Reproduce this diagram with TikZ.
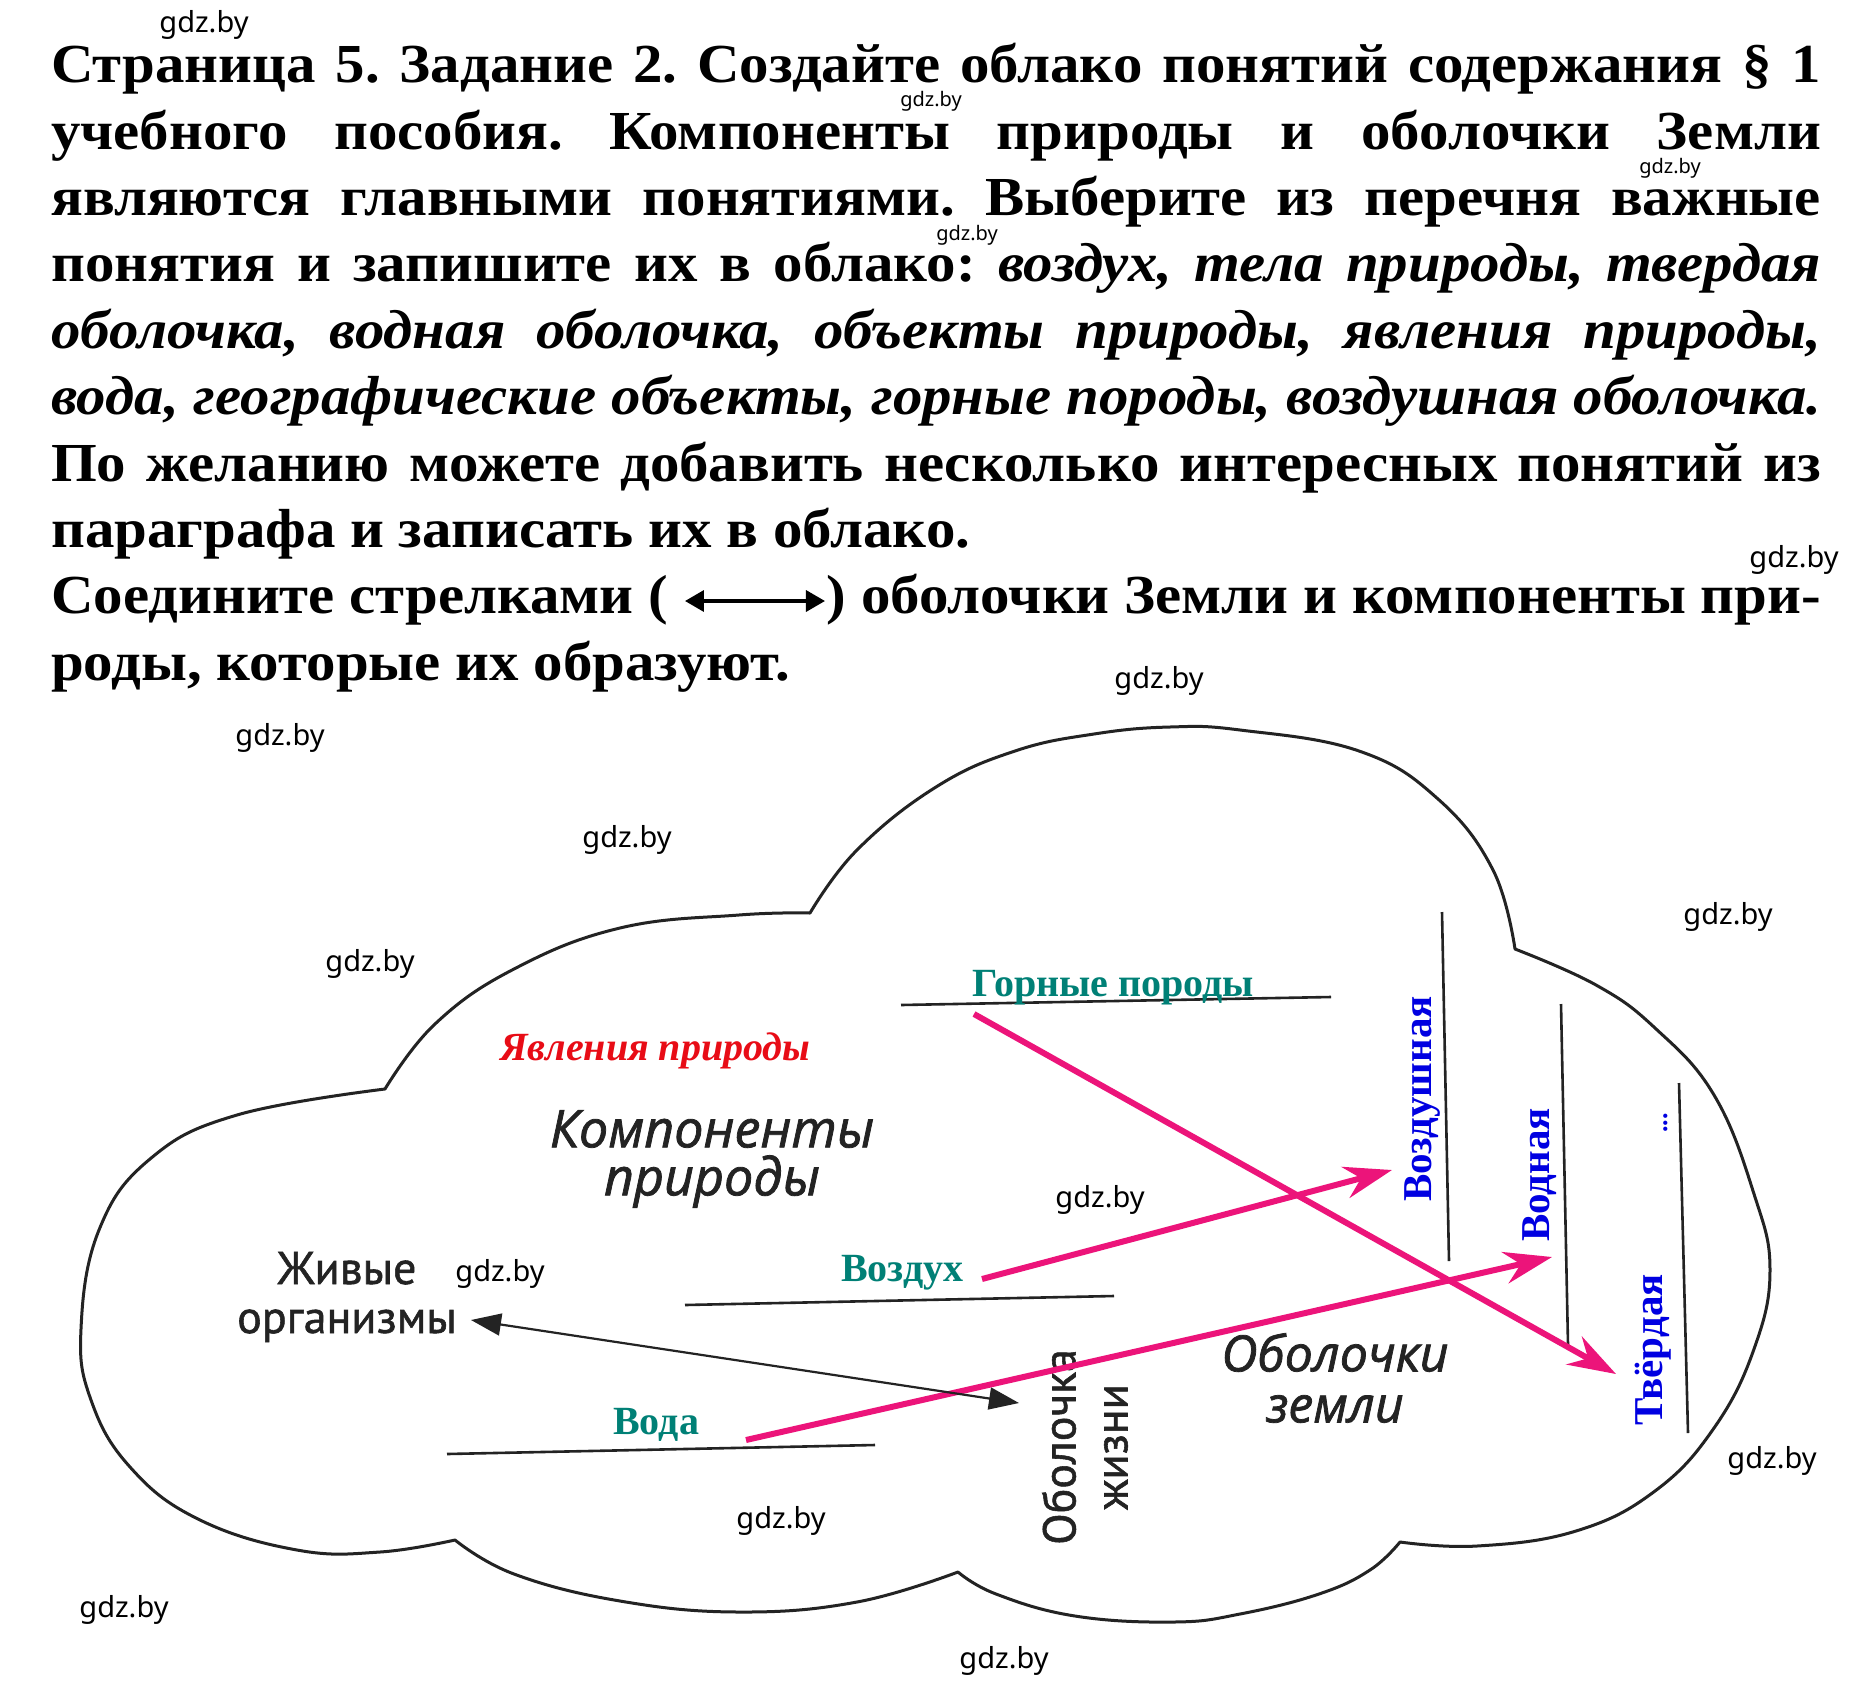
\documentclass[tikz,border=0pt]{standalone}
\usepackage{fontspec}
\setmainfont{Liberation Serif}
\newfontfamily\taskfont{Liberation Serif}[FakeStretch=1.07]
\newfontfamily\ptsans{PT Sans}[FakeBold=1.2]
\newfontfamily\hand{Open Sans}[FakeBold=1.5]
\newfontfamily\wmfont{Noto Sans}
\usetikzlibrary{arrows.meta,calc}
\definecolor{tealtxt}{RGB}{0,128,118}
\definecolor{pinkarrow}{RGB}{236,20,122}
\definecolor{bluetxt}{RGB}{0,0,225}
\definecolor{redtxt}{RGB}{232,12,22}
\definecolor{ink}{RGB}{35,35,35}
\tikzset{
  txtline/.style={anchor=base west, inner sep=0pt, font=\taskfont\bfseries\fontsize{55}{66}\selectfont},
  wmbig/.style={inner sep=0pt, font=\wmfont\fontsize{29}{32}\selectfont},
  wmsmall/.style={inner sep=0pt, font=\wmfont\fontsize{20}{22}\selectfont},
  cloudline/.style={draw=ink, line width=3pt, line join=round},
  blankline/.style={draw=ink, line width=2.6pt},
  pinkarr/.style={draw=pinkarrow, line width=6pt, -{Stealth[length=48pt,width=32pt,inset=16pt]}},
  blackarr/.style={draw=ink, line width=2.2pt, {Triangle[length=30pt,width=22pt]}-{Triangle[length=30pt,width=22pt]}},
  answer/.style={anchor=base west, inner sep=0pt, text=tealtxt, font=\bfseries\fontsize{40}{44}\selectfont},
  shell/.style={rotate=90, inner sep=0pt, text=bluetxt, font=\bfseries\fontsize{41}{44}\selectfont},
  handtxt/.style={inner sep=0pt, align=center, text=ink, font=\hand\itshape\fontsize{52}{48}\selectfont},
  sanstxt/.style={inner sep=0pt, align=center, text=ink, font=\ptsans\fontsize{46}{49}\selectfont}
}
\begin{document}
\frenchspacing
\begin{tikzpicture}[x=1pt,y=-1pt]
\useasboundingbox (0,0) rectangle (1860,1692);
\fill[white] (0,0) rectangle (1860,1692);

% ---- task text ----
\node[txtline] (t1) at (51,82) {\makebox[1770pt][s]{Страница 5. Задание 2. Создайте облако понятий содержания § 1}};
\node[txtline] (t2) at (51,149) {\makebox[1770pt][s]{учебного пособия. Компоненты природы и оболочки Земли}};
\node[txtline] (t3) at (51,215) {\makebox[1770pt][s]{являются главными понятиями. Выберите из перечня важные}};
\node[txtline] (t4) at (51,281) {\makebox[1770pt][s]{понятия и запишите их в облако: \textit{воздух, тела природы, твердая}}};
\node[txtline] (t5) at (51,348) {\makebox[1770pt][s]{\textit{оболочка, водная оболочка, объекты природы, явления природы,}}};
\node[txtline] (t6) at (51,414) {\makebox[1770pt][s]{\textit{вода, географические объекты, горные породы, воздушная оболочка.}}};
\node[txtline] (t7) at (51,481) {\makebox[1770pt][s]{По желанию можете добавить несколько интересных понятий из}};
\node[txtline] (t8) at (51,547) {параграфа и записать их в облако.};
\node[txtline] (t9) at (51,613) {\makebox[1770pt][s]{Соедините стрелками ( \tikz[baseline=0pt]\draw[line width=3.5pt,{Triangle[length=19pt,width=21pt]}-{Triangle[length=19pt,width=21pt]}] (0pt,12pt) -- (140pt,12pt);) оболочки Земли и компоненты при-}};
\node[txtline] (t10) at (51,680) {роды, которые их образуют.};

% ---- cloud ----
\draw[cloudline]
  plot[smooth,tension=0.7] coordinates {(385,1089) (435,1024) (514,969) (620,928) (739,915) (810,913)}
  -- plot[smooth,tension=0.7] coordinates {(810,913) (857,850) (936,787) (1015,751) (1094,734) (1170,727) (1240,730) (1359,751) (1438,799) (1493,870) (1515,949)}
  -- plot[smooth,tension=0.7] coordinates {(1515,949) (1596,985) (1655,1028) (1714,1095) (1754,1194) (1770,1270) (1754,1349) (1714,1428) (1655,1491) (1576,1531) (1477,1546) (1400,1542)}
  -- plot[smooth,tension=0.7] coordinates {(1400,1542) (1370,1570) (1319,1594) (1240,1614) (1174,1622) (1075,1616) (996,1594) (958,1572)}
  -- plot[smooth,tension=0.7] coordinates {(958,1572) (857,1602) (739,1612) (620,1601) (514,1574) (455,1540)}
  -- plot[smooth,tension=0.7] coordinates {(455,1540) (380,1552) (297,1550) (198,1519) (130,1467) (91,1400) (81,1329) (99,1230) (150,1159) (237,1115) (385,1089)}
  -- cycle;

% ---- blank answer lines ----
\draw[blankline] (901,1005) -- (1331,997);
\draw[blankline] (685,1305) -- (1114,1296);
\draw[blankline] (447,1454) -- (875,1445);
\draw[blankline] (1442,912) -- (1449,1261);
\draw[blankline] (1561,1004) -- (1568,1345);
\draw[blankline] (1679,1083) -- (1688,1433);

% ---- labels ----
\node[inner sep=0pt, anchor=base west, text=redtxt, font=\bfseries\itshape\fontsize{40}{44}\selectfont] (yav) at (500,1060) {Явления природы};
\node[handtxt] (komp) at (712,1159) {Компоненты\\природы};
\node[handtxt, font=\hand\itshape\fontsize{50}{51}\selectfont] (obz) at (1335,1378) {Оболочки\\земли};
\node[sanstxt] (org) at (347,1297) {Живые\\организмы};
\node[sanstxt, rotate=90, font=\ptsans\fontsize{46}{52}\selectfont] (obzh) at (1085,1447) {Оболочка\\жизни};

\node[answer] (gp) at (972,996) {Горные породы};
\node[answer] (vozd) at (841,1281) {Воздух};
\node[answer] (voda) at (613,1434) {Вода};

\node[shell] (vzd) at (1422,1099) {Воздушная};
\node[shell] (vdn) at (1540,1175) {Водная};
\node[shell] (tvd) at (1653,1350) {Твёрдая};
\node[shell, font=\bfseries\fontsize{26}{28}\selectfont] (dots) at (1666,1123) {...};

% ---- connectors ----
\draw[pinkarr] ($(gp.base west)+(2,18)$) -- ($(tvd.center)+(-37,24)$);
\draw[pinkarr] ($(vozd.base west)+(141,-2)$) -- ($(vzd.center)+(-30,71)$);
\draw[pinkarr] ($(voda.base west)+(133,6)$) -- ($(vdn.center)+(12,82)$);
\draw[blackarr] ($(org.east)+(14,23)$) -- ($(obzh.center)+(-66,-44)$);

% ---- watermarks ----
\node[wmbig] (w1) at (204,25) {gdz.by};
\node[wmsmall] (w2) at (931,101) {gdz.by};
\node[wmsmall] (w3) at (1670,168) {gdz.by};
\node[wmsmall] (w4) at (967,235) {gdz.by};
\node[wmbig] (w5) at (1794,560) {gdz.by};
\node[wmbig] (w6) at (1159,681) {gdz.by};
\node[wmbig] (w7) at (280,738) {gdz.by};
\node[wmbig] (w8) at (627,840) {gdz.by};
\node[wmbig] (w9) at (1728,917) {gdz.by};
\node[wmbig] (w10) at (370,964) {gdz.by};
\node[wmbig] (w11) at (1100,1200) {gdz.by};
\node[wmbig] (w12) at (500,1274) {gdz.by};
\node[wmbig] (w13) at (1772,1461) {gdz.by};
\node[wmbig] (w14) at (781,1521) {gdz.by};
\node[wmbig] (w15) at (124,1610) {gdz.by};
\node[wmbig] (w16) at (1004,1661) {gdz.by};
\end{tikzpicture}
\end{document}
